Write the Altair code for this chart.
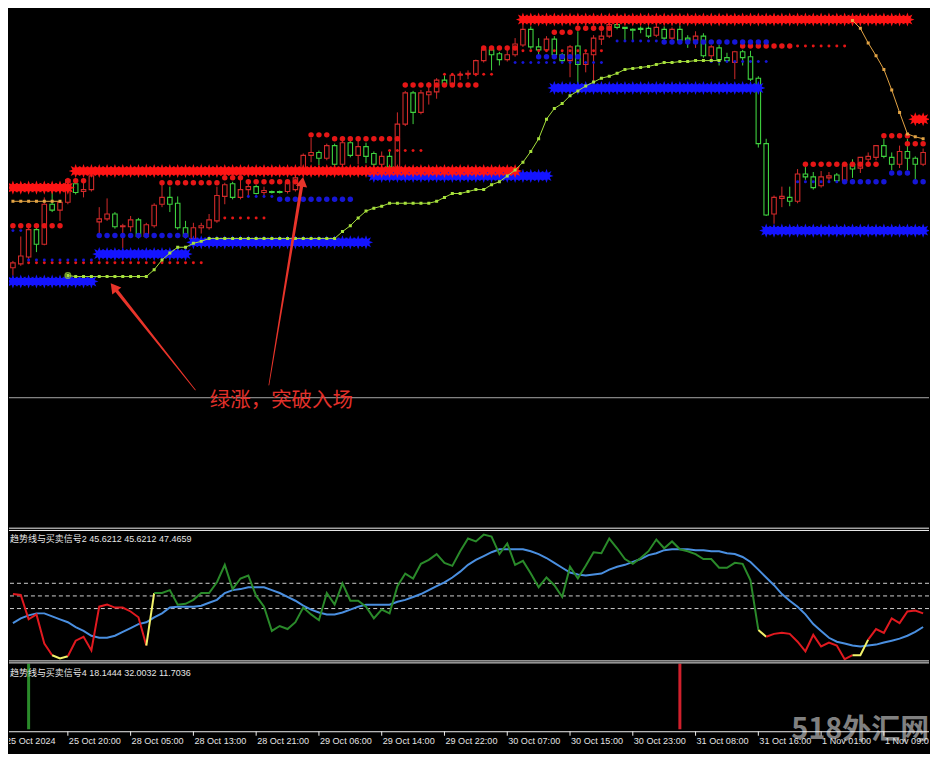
import math
import altair as alt
import pandas as pd

# ---------------- layout ----------------
W = 922
H_MAIN, H_OSC, H_HIST, H_AX = 520, 133, 71, 22
XDOM = [-0.5, 116.75]
PDOM = [2667.25, 2800.0]
ODOM = [-1.0, 104.0]
HDOM = [-0.03, 1.05]

# ---------------- candles (H1 bars 0..116) ----------------
OPEN = [2733.75, 2734.75, 2736.5, 2743.5, 2739.75, 2750, 2748.5, 2750.5, 2755.25, 2753.25,
        2753.75, 2745.5, 2746.25, 2747.5, 2744.25, 2744.25, 2746, 2741.75, 2744.5, 2750,
        2751.75, 2750.25, 2744, 2741.25, 2744, 2744, 2745.75, 2752, 2755.25, 2751.75,
        2753.75, 2754.5, 2753, 2753.25, 2753.25, 2753.25, 2753.75, 2758.75, 2762.5, 2763.25,
        2761.75, 2765, 2760.25, 2765.75, 2762.5, 2764.75, 2763, 2760.25, 2762.25, 2759.5,
        2770.5, 2778.5, 2773.5, 2778, 2778.75, 2781.75, 2780.75, 2783, 2783.25, 2783.25,
        2786.75, 2789.5, 2788.5, 2787, 2788.25, 2790.75, 2794.75, 2790.25, 2789.5, 2792.25,
        2788.25, 2786.75, 2790.5, 2785.75, 2788.25, 2792.25, 2793, 2796, 2795.25, 2794.75,
        2795, 2795, 2793.25, 2794.75, 2792.5, 2794.75, 2792.5, 2792, 2793, 2788,
        2790, 2787.5, 2786.25, 2789, 2787.75, 2782.25, 2765.5, 2747.5, 2751.5, 2751.75,
        2750.75, 2757.75, 2757, 2754.75, 2756.75, 2757.5, 2756, 2760.25, 2759.25, 2761.5,
        2762, 2765, 2762, 2760.25, 2763.5, 2761.75, 2760.25]
HIGH = [2735.5, 2741.75, 2744, 2744, 2751.75, 2753.25, 2751, 2756.75, 2755.75, 2755.5,
        2757.75, 2749.25, 2751.5, 2748, 2745, 2747, 2746.5, 2745.25, 2750.25, 2755.25,
        2754.5, 2752, 2745.75, 2745.25, 2745.25, 2747.5, 2754.5, 2755.5, 2755.75, 2756.25,
        2755.75, 2755, 2754.5, 2753.5, 2753.5, 2756, 2757.25, 2763, 2767, 2763.75,
        2765.5, 2765.5, 2766.25, 2766.25, 2766.75, 2765.75, 2763.5, 2763.5, 2763.5, 2773.5,
        2779, 2779, 2779.25, 2781.25, 2782.25, 2783, 2783.5, 2784, 2784.25, 2787,
        2790.5, 2790, 2789, 2790.25, 2792.5, 2795.75, 2795.5, 2792.5, 2793, 2793,
        2788.75, 2790.75, 2794.25, 2789.5, 2793.25, 2794.25, 2796.75, 2796.5, 2795.25, 2795,
        2795.5, 2795.5, 2795.75, 2795.5, 2795.25, 2795.75, 2793.25, 2794.25, 2793.75, 2790.75,
        2790.75, 2788.75, 2789.25, 2789.5, 2789.25, 2782.75, 2766.75, 2752.25, 2754.5, 2754.5,
        2759, 2759.5, 2758.25, 2758.5, 2758.25, 2758, 2760.75, 2761.5, 2762, 2763.25,
        2765, 2766.75, 2763.25, 2765, 2766.75, 2762.25, 2764.25]
LOW = [2731.75, 2734.25, 2736, 2737.75, 2739.5, 2748, 2745.75, 2750, 2752.5, 2751.75,
       2753.25, 2742.5, 2745.75, 2743.75, 2738.75, 2743, 2741.25, 2741.25, 2744, 2749.25,
       2748, 2743.5, 2741.25, 2740.75, 2742.5, 2743.5, 2745.25, 2750, 2751.25, 2751.25,
       2752, 2752.5, 2752, 2752.75, 2752.75, 2752.75, 2753.25, 2757.5, 2760.75, 2760,
       2761.25, 2759.75, 2759.75, 2762, 2760.25, 2760.5, 2759.75, 2759.75, 2759, 2759,
       2770, 2770.5, 2773, 2775.5, 2777, 2780, 2780.25, 2781.75, 2782, 2782.75,
       2786.25, 2784.25, 2785.5, 2786.5, 2787.75, 2790.25, 2789.75, 2788, 2789, 2787.75,
       2786.25, 2782.5, 2779.5, 2783.75, 2780.75, 2790.75, 2792.5, 2794.75, 2792, 2792,
       2793.75, 2792.5, 2792.75, 2792, 2792, 2791.5, 2790, 2790, 2787.5, 2787,
       2785.5, 2786.25, 2782, 2785.5, 2781.5, 2764.5, 2747, 2745, 2749.25, 2749.5,
       2750.25, 2756.25, 2753.75, 2754.25, 2755.75, 2755.5, 2755.5, 2756.75, 2758, 2760.75,
       2761.25, 2761.75, 2758.75, 2759.25, 2758.75, 2756.25, 2759.75]
CLOSE = [2735, 2736.75, 2743.5, 2739.75, 2750, 2748.5, 2750.5, 2756.25, 2753, 2753.75,
         2757.25, 2746.25, 2747.5, 2744.25, 2744.5, 2746, 2741.75, 2744.75, 2749.75, 2751.75,
         2750, 2744, 2741.75, 2744, 2744.5, 2746, 2752.25, 2755, 2751.75, 2753.75,
         2754.5, 2752.75, 2753.5, 2753, 2753, 2755.5, 2756.75, 2762.5, 2763.25, 2761.75,
         2765, 2760.25, 2765.75, 2762.5, 2764.75, 2762.25, 2760.25, 2762.25, 2759.5, 2770.5,
         2778.5, 2773.5, 2778.5, 2778.75, 2781.75, 2780.75, 2783, 2783.25, 2783.5, 2786.75,
         2789.5, 2788.25, 2787, 2788.25, 2791, 2794.75, 2790.25, 2789.5, 2792.25, 2788.25,
         2786.75, 2790.25, 2785.75, 2788.5, 2792.5, 2793, 2796, 2795.25, 2795, 2794.5,
         2794.75, 2793, 2795.25, 2792.5, 2794.75, 2792, 2792, 2793, 2788, 2790.25,
         2787, 2786.75, 2789, 2787.5, 2782, 2765.5, 2747.25, 2751.75, 2752, 2750.75,
         2757.75, 2757, 2754.25, 2757, 2757.25, 2756, 2760.25, 2759, 2762, 2762.25,
         2765, 2762.25, 2760.25, 2763.5, 2761.75, 2760.25, 2763.25]

# ---------------- indicator levels: (from bar, to bar, price) ----------------
RED_STAR_FROM = [0, 8, 65, 115]
RED_STAR_TO = [7, 64, 114, 116]
RED_STAR_PRICE = [2754.25, 2758.5, 2797.25, 2771.75]

BLUE_STAR_FROM = [0, 11, 23, 46, 69, 96]
BLUE_STAR_TO = [10, 22, 45, 68, 95, 116]
BLUE_STAR_PRICE = [2730.25, 2737.25, 2740.25, 2757.25, 2779.75, 2743.25]

RED_DOT_BIG_FROM = [0, 7, 19, 27, 30, 38, 41, 50, 60, 69, 72, 93, 101, 111, 114]
RED_DOT_BIG_TO = [6, 9, 26, 29, 36, 40, 49, 59, 64, 71, 76, 99, 110, 114, 116]
RED_DOT_BIG_PRICE = [2744.5, 2756, 2755.5, 2756.75, 2755.75, 2767.75, 2766.75, 2780.5,
                     2790, 2794, 2795, 2790.5, 2760.25, 2767.5, 2765.5]

RED_DOT_SMALL_FROM = [2, 27, 48, 55, 65, 100]
RED_DOT_SMALL_TO = [24, 32, 52, 61, 75, 106]
RED_DOT_SMALL_PRICE = [2735, 2746.5, 2763.75, 2783.25, 2789.25, 2790.5]

BLUE_DOT_BIG_FROM = [11, 34, 67, 83, 106, 112, 115]
BLUE_DOT_BIG_TO = [22, 43, 72, 96, 111, 114, 116]
BLUE_DOT_BIG_PRICE = [2742, 2751.25, 2787.75, 2791.5, 2755.75, 2758, 2755.75]

BLUE_DOT_SMALL_FROM = [0, 2, 30, 64, 77, 89, 100]
BLUE_DOT_SMALL_TO = [1, 10, 33, 75, 82, 96, 105]
BLUE_DOT_SMALL_PRICE = [2743.25, 2735.75, 2752, 2786.25, 2791.75, 2786.5, 2755.75]

# trailing lines
GREEN_START = 7
GREEN_TRAIL = [2731.75, 2731.5, 2731.5, 2731.5, 2731.5, 2731.5, 2731.5, 2731.5, 2731.5, 2731.5,
               2731.5, 2733.25, 2735.75, 2737.5, 2739, 2739, 2740, 2740.5,
               2741.25, 2741.25, 2741.25, 2741.25, 2741.25, 2741.25, 2741.25, 2741.25, 2741.25,
               2741.25, 2741.25, 2741.25, 2741.25, 2741.25, 2741.25, 2741.25, 2741.25,
               2743, 2744.5, 2746.5, 2748.25, 2749, 2749.5,
               2750.25, 2750.25, 2750.25, 2750.25, 2750.25, 2750.25,
               2750.75, 2751.75, 2752.75, 2752.75, 2753.25, 2753.75, 2753.75, 2755, 2755.75,
               2757.25, 2758.75, 2760.75, 2763.5, 2766.75, 2771.75, 2774.5, 2775.75, 2777.75,
               2779, 2780.25, 2781.25, 2782.25, 2782.75, 2783.5, 2784.5, 2784.75, 2785,
               2785.25, 2785.75, 2786.25, 2786.25, 2786.5, 2786.5,
               2786.75, 2786.75, 2786.75, 2786.75]
ORANGE_A_START = 0
ORANGE_A = [2750.75, 2750.75, 2750.75, 2750.75, 2750.75, 2750.75, 2750.75]
ORANGE_B_START = 107
ORANGE_B = [2797, 2795, 2791.25, 2788, 2784.5, 2779.25, 2773.5, 2768, 2767.25, 2766.75]

HLINE_PRICE = 2700.5

# annotation
ANNOT_TEXT = "绿涨，突破入场"
ANNOT_BAR = 25.1
ANNOT_PRICE = 2699.75
ARROW_TAIL_BAR = [23.25, 32.625]
ARROW_TAIL_PRICE = [2702.5, 2703.75]
ARROW_TIP_BAR = [12.375, 37.0]
ARROW_TIP_PRICE = [2730.0, 2757.25]
ARROW_ANGLE = [322, 9]

# ---------------- oscillator panel ----------------
OSC = [51.5, 50.8, 31.5, 35.4, 12.3, 3.1, 0.5, 2.3, 14.6, 17.7,
       6.9, 41.5, 43.1, 40.8, 40.8, 37.7, 33.1, 10.8, 52.3, 52.3,
       54.6, 43.1, 43.8, 46.9, 52.3, 52.3, 60.8, 74.6, 55.4, 63.8,
       66.2, 50.0, 41.5, 22.3, 26.2, 23.8, 29.2, 40.8, 35.4, 30.8,
       52.3, 43.1, 60.0, 46.2, 46.2, 41.5, 32.3, 39.2, 36.2, 57.7,
       67.7, 63.8, 75.4, 78.5, 83.1, 76.2, 73.8, 85.4, 95.4, 93.1,
       98.5, 96.9, 83.1, 91.5, 74.6, 77.7, 67.7, 56.9, 64.6, 58.5,
       49.2, 73.1, 63.8, 73.8, 84.6, 83.8, 95.4, 87.7, 79.2, 75.4,
       80.0, 85.4, 94.6, 87.7, 93.1, 86.9, 85.4, 83.1, 79.2, 79.2,
       72.3, 72.3, 76.2, 75.4, 62.3, 23.1, 17.7, 20.0, 20.8, 20.0,
       13.8, 6.2, 19.2, 10.0, 13.1, 10.8, 0.0, 3.1, 3.1, 15.4,
       23.8, 20.8, 32.3, 28.5, 37.7, 38.5, 36.2]
SIG = [28.5, 32.3, 34.6, 36.2, 36.2, 33.8, 31.5, 29.2, 25.4, 22.3,
       18.5, 16.9, 16.9, 18.5, 21.5, 24.6, 27.7, 29.2, 33.1, 36.2,
       40.8, 41.5, 41.5, 41.5, 42.3, 44.6, 46.9, 52.3, 54.6, 55.4,
       56.9, 56.9, 56.9, 54.6, 52.3, 49.2, 46.2, 42.3, 39.2, 36.9,
       35.4, 35.4, 36.9, 39.2, 41.5, 43.1, 43.1, 43.1, 43.1, 45.4,
       46.9, 49.2, 51.5, 54.6, 57.7, 60.8, 64.6, 69.2, 74.6, 78.5,
       81.5, 84.6, 86.9, 86.9, 86.9, 86.9, 85.4, 83.1, 80.0, 76.2,
       72.3, 68.5, 66.9, 66.2, 66.9, 67.7, 70.8, 73.1, 74.6, 76.9,
       79.2, 82.3, 83.8, 86.2, 86.9, 86.9, 86.9, 86.2, 86.2, 85.4,
       85.4, 83.8, 83.1, 80.8, 76.9, 70.8, 64.6, 58.5, 51.5, 46.2,
       41.5, 35.4, 27.7, 22.3, 16.9, 13.8, 12.3, 10.8, 10.0, 10.8,
       11.5, 13.1, 14.6, 16.2, 18.5, 21.5, 25.4]
OSC_LEVELS = [60, 50, 40]
OSC_SEG_FROM = [0, 5, 7, 17, 18, 95, 96, 107, 109]
OSC_SEG_TO = [5, 7, 17, 18, 95, 96, 107, 109, 116]
OSC_SEG_STATE = ["down", "flat", "down", "flat", "up", "flat", "down", "flat", "down"]
OSC_LABEL = "趋势线与买卖信号2 45.6212 45.6212 47.4659"

# ---------------- signal histogram panel ----------------
HIST_BAR = [2, 85]
HIST_VALUE = [1.0, 1.0]
HIST_STATE = ["up", "down"]
HIST_LABEL = "趋势线与买卖信号4 18.1444 32.0032 11.7036"

# ---------------- time axis ----------------
TICK_BARS = [-1, 7, 15, 23, 31, 39, 47, 55, 63, 71, 79, 87, 95, 103, 111]
TICK_LABELS = ["25 Oct 2024", "25 Oct 20:00", "28 Oct 05:00", "28 Oct 13:00", "28 Oct 21:00",
               "29 Oct 06:00", "29 Oct 14:00", "29 Oct 22:00", "30 Oct 07:00", "30 Oct 15:00",
               "30 Oct 23:00", "31 Oct 08:00", "31 Oct 16:00", "1 Nov 01:00", "1 Nov 09:00"]
WATERMARK = "518外汇网"

# ---------------- styles ----------------
C_UP, C_DOWN = "#d22a2a", "#3fd23f"
C_RSTAR, C_BSTAR = "#ff1414", "#1414ff"
C_RDOT, C_BDOT = "#e51616", "#1616d6"
C_GTRAIL, C_OTRAIL = "#a6e03c", "#e3a444"
OSC_COLORS = {"down": "#e0191f", "flat": "#f2f26a", "up": "#2a8a2a"}
C_SIG = "#4a8fe0"
CJK = "Liberation Sans, Noto Sans CJK SC"

xs = alt.Scale(domain=XDOM, nice=False, zero=False, padding=0)
ps = alt.Scale(domain=PDOM, nice=False, zero=False, padding=0)
os_ = alt.Scale(domain=ODOM, nice=False, zero=False, padding=0)
hs = alt.Scale(domain=HDOM, nice=False, zero=False, padding=0)


def X(field="bar"):
    return alt.X(f"{field}:Q", scale=xs, axis=None)


def Yp(field):
    return alt.Y(f"{field}:Q", scale=ps, axis=None)


def seg_rows(starts, ends, prices, col, tag):
    rows = []
    for s, (a, b, p) in enumerate(zip(starts, ends, prices)):
        for i in range(a, b + 1):
            rows.append({"bar": i, "price": p, "seg": f"{tag}{s}", "col": col})
    return rows


# ---------------- main panel ----------------
cdf = pd.DataFrame({"bar": list(range(len(OPEN))), "open": OPEN, "high": HIGH,
                    "low": LOW, "close": CLOSE})
cdf["top"] = cdf[["open", "close"]].max(axis=1)
cdf["bot"] = cdf[["open", "close"]].min(axis=1)
cdf["col"] = [C_UP if c >= o else C_DOWN for o, c in zip(OPEN, CLOSE)]

hline = alt.Chart(pd.DataFrame({"price": [HLINE_PRICE]})).mark_rule(
    color="#a8a8a8", strokeWidth=1).encode(y=Yp("price"))

wicks = alt.Chart(cdf).mark_rule(strokeWidth=1, clip=True).encode(
    X(), Yp("high"), y2="low:Q", color=alt.Color("col:N", scale=None))
bodies = alt.Chart(cdf).mark_bar(size=4.5, fill="black", strokeWidth=1.1, clip=True).encode(
    X(), Yp("top"), y2="bot:Q", stroke=alt.Stroke("col:N", scale=None))

star_df = pd.DataFrame(
    seg_rows(BLUE_STAR_FROM, BLUE_STAR_TO, BLUE_STAR_PRICE, C_BSTAR, "b")
    + seg_rows(RED_STAR_FROM, RED_STAR_TO, RED_STAR_PRICE, C_RSTAR, "r"))
pts = []
for k in range(16):
    r = 1.0 if k % 2 == 0 else 0.5
    a = math.pi * k / 8
    pts.append(f"{r * math.sin(a):.3f},{-r * math.cos(a):.3f}")
STAR = "M" + " L".join(pts) + " Z"

star_core = alt.Chart(star_df).mark_line(strokeWidth=7, clip=True).encode(
    X(), Yp("price"), detail="seg:N", color=alt.Color("col:N", scale=None))
stars = alt.Chart(star_df).mark_point(shape=STAR, filled=True, size=200, opacity=1,
                                      clip=True).encode(
    X(), Yp("price"), color=alt.Color("col:N", scale=None))

big_df = pd.DataFrame(
    seg_rows(RED_DOT_BIG_FROM, RED_DOT_BIG_TO, RED_DOT_BIG_PRICE, C_RDOT, "rb")
    + seg_rows(BLUE_DOT_BIG_FROM, BLUE_DOT_BIG_TO, BLUE_DOT_BIG_PRICE, C_BDOT, "bb"))
small_df = pd.DataFrame(
    seg_rows(RED_DOT_SMALL_FROM, RED_DOT_SMALL_TO, RED_DOT_SMALL_PRICE, C_RDOT, "rs")
    + seg_rows(BLUE_DOT_SMALL_FROM, BLUE_DOT_SMALL_TO, BLUE_DOT_SMALL_PRICE, C_BDOT, "bs"))
big_dots = alt.Chart(big_df).mark_circle(size=30, opacity=1, clip=True).encode(
    X(), Yp("price"), color=alt.Color("col:N", scale=None))
small_dots = alt.Chart(small_df).mark_circle(size=9, opacity=1, clip=True).encode(
    X(), Yp("price"), color=alt.Color("col:N", scale=None))

trail_rows = []
for j, v in enumerate(GREEN_TRAIL):
    trail_rows.append({"bar": GREEN_START + j, "price": v, "seg": "g", "col": C_GTRAIL})
for j, v in enumerate(ORANGE_A):
    trail_rows.append({"bar": ORANGE_A_START + j, "price": v, "seg": "oa", "col": C_OTRAIL})
for j, v in enumerate(ORANGE_B):
    trail_rows.append({"bar": ORANGE_B_START + j, "price": v, "seg": "ob", "col": C_OTRAIL})
tdf = pd.DataFrame(trail_rows)
trail_line = alt.Chart(tdf).mark_line(strokeWidth=1, clip=True).encode(
    X(), Yp("price"), detail="seg:N", color=alt.Color("col:N", scale=None))
trail_pts = alt.Chart(tdf).mark_square(size=9, opacity=1, clip=True).encode(
    X(), Yp("price"), color=alt.Color("col:N", scale=None))
trail_start = alt.Chart(tdf[tdf["bar"] == GREEN_START].head(1)).mark_point(
    shape="circle", size=30, color=C_GTRAIL, strokeWidth=1.5).encode(X(), Yp("price"))

# arrows
px_per_bar = W / (XDOM[1] - XDOM[0])
px_per_price = H_MAIN / (PDOM[1] - PDOM[0])
arr_rows, head_rows = [], []
for k in range(len(ARROW_TIP_BAR)):
    dxp = (ARROW_TIP_BAR[k] - ARROW_TAIL_BAR[k]) * px_per_bar
    dyp = (ARROW_TIP_PRICE[k] - ARROW_TAIL_PRICE[k]) * px_per_price
    f = 6.0 / math.hypot(dxp, dyp)
    hb = ARROW_TIP_BAR[k] - f * (ARROW_TIP_BAR[k] - ARROW_TAIL_BAR[k])
    hp = ARROW_TIP_PRICE[k] - f * (ARROW_TIP_PRICE[k] - ARROW_TAIL_PRICE[k])
    arr_rows.append({"a": k, "bar": ARROW_TAIL_BAR[k], "price": ARROW_TAIL_PRICE[k], "w": 0.8, "o": 0})
    arr_rows.append({"a": k, "bar": hb, "price": hp, "w": 3.4, "o": 1})
    head_rows.append({"bar": hb, "price": hp, "ang": ARROW_ANGLE[k]})
C_ARROW = "#e8342a"
arrow_shaft = alt.Chart(pd.DataFrame(arr_rows)).mark_trail(color=C_ARROW).encode(
    X(), Yp("price"), detail="a:N", order="o:Q", size=alt.Size("w:Q", scale=None))
arrow_head = alt.Chart(pd.DataFrame(head_rows)).mark_point(
    shape="triangle-up", filled=True, size=130, color=C_ARROW, opacity=1).encode(
    X(), Yp("price"), angle=alt.Angle("ang:Q", scale=None))
annot = alt.Chart(pd.DataFrame({"bar": [ANNOT_BAR], "price": [ANNOT_PRICE]})).mark_text(
    text=ANNOT_TEXT, align="left", baseline="middle", fontSize=20.5, color="#e2302a",
    font="Noto Sans CJK SC").encode(X(), Yp("price"))

main = alt.layer(hline, wicks, bodies, star_core, stars, small_dots, big_dots,
                 trail_line, trail_pts, trail_start, arrow_shaft, arrow_head, annot
                 ).properties(width=W, height=H_MAIN)

# ---------------- oscillator panel ----------------
one = pd.DataFrame({"k": [0]})


def sep(y):
    return alt.Chart(one).mark_rule(color="#f0f0f0", strokeWidth=1).encode(
        x=alt.value(0), x2=alt.value(W), y=alt.value(y))


odf = pd.DataFrame({"bar": list(range(len(OSC))), "v": OSC, "s": SIG})
seg_rows_osc = []
for s, (a, b, st) in enumerate(zip(OSC_SEG_FROM, OSC_SEG_TO, OSC_SEG_STATE)):
    for i in range(a, b + 1):
        seg_rows_osc.append({"bar": i, "v": OSC[i], "seg": s, "col": OSC_COLORS[st]})
osdf = pd.DataFrame(seg_rows_osc)

levels = alt.Chart(pd.DataFrame({"lv": OSC_LEVELS})).mark_rule(
    color="#d0d0d0", strokeDash=[4, 3], strokeWidth=1).encode(
    y=alt.Y("lv:Q", scale=os_, axis=None))
sig_line = alt.Chart(odf).mark_line(color=C_SIG, strokeWidth=2, clip=True).encode(
    X(), alt.Y("s:Q", scale=os_, axis=None))
osc_line = alt.Chart(osdf).mark_line(strokeWidth=2, clip=True).encode(
    X(), alt.Y("v:Q", scale=os_, axis=None), detail="seg:N",
    color=alt.Color("col:N", scale=None))
osc_label = alt.Chart(one).mark_text(text=OSC_LABEL, align="left", baseline="middle",
                                     fontSize=9, color="#e6e6e6", font=CJK).encode(
    x=alt.value(1), y=alt.value(11.5))
osc = alt.layer(levels, sig_line, osc_line, sep(0.5), sep(2.8), osc_label
                ).properties(width=W, height=H_OSC)

# ---------------- histogram panel ----------------
hdf = pd.DataFrame({"bar": HIST_BAR, "v": HIST_VALUE,
                    "col": [OSC_COLORS[s] if s == "up" else "#d0202c" for s in HIST_STATE]})
hdf["z"] = 0.0
hist_bars = alt.Chart(hdf).mark_rule(strokeWidth=3).encode(
    X(), alt.Y("z:Q", scale=hs, axis=None), y2="v:Q", color=alt.Color("col:N", scale=None))
hist_label = alt.Chart(one).mark_text(text=HIST_LABEL, align="left", baseline="middle",
                                      fontSize=9, color="#e6e6e6", font=CJK).encode(
    x=alt.value(1), y=alt.value(12.5))
watermark = alt.Chart(one).mark_text(text=WATERMARK, align="center", baseline="middle",
                                     fontSize=29, fontWeight="bold", color="#a0a0a0",
                                     opacity=0.8, font="Noto Sans CJK SC").encode(
    x=alt.value(853), y=alt.value(70))
hist = alt.layer(hist_bars, hist_label, sep(0.5), sep(2.5), watermark
                 ).properties(width=W, height=H_HIST)

# ---------------- time axis panel ----------------
tdf2 = pd.DataFrame({"bar": TICK_BARS, "lab": TICK_LABELS})
ax_line = sep(0.5)
ax_ticks = alt.Chart(tdf2).mark_rule(color="#f0f0f0", strokeWidth=1, clip=True).encode(
    X(), y=alt.value(0), y2=alt.value(4.5))
ax_labels = alt.Chart(tdf2).mark_text(align="left", baseline="middle", fontSize=9.1,
                                      color="#e4e4e4", font="Liberation Sans", clip=True,
                                      dx=1).encode(
    X(), y=alt.value(9.5), text="lab:N")
axp = alt.layer(ax_line, ax_ticks, ax_labels).properties(width=W, height=H_AX)

chart = alt.vconcat(main, osc, hist, axp, spacing=0, bounds="flush").resolve_scale(
    x="independent", y="independent"
).properties(background="black", padding=0).configure_view(stroke=None)

chart.save("out.html", embed_options={"renderer": "svg", "actions": False})
